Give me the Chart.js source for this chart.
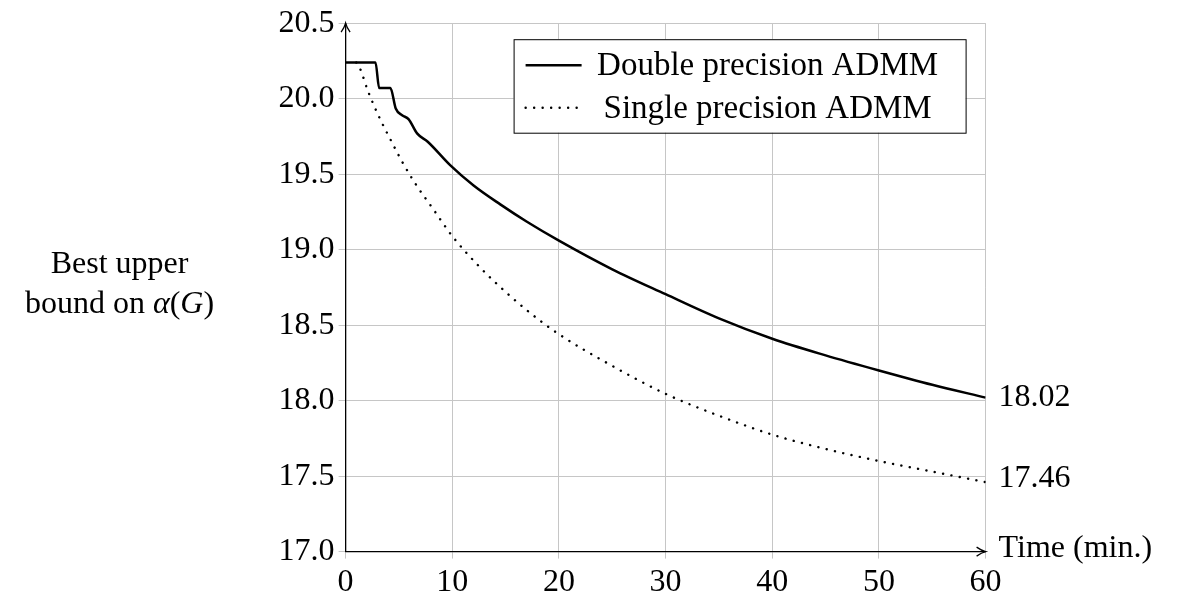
<!DOCTYPE html>
<html>
<head>
<meta charset="utf-8">
<script src="https://cdn.jsdelivr.net/npm/chart.js@4.4.1/dist/chart.umd.min.js"></script>
<style>
  html, body { margin: 0; padding: 0; background: #fff; }
  #wrap { width: 1179px; height: 599px; }
</style>
</head>
<body>
<div id="wrap"><canvas id="chart"></canvas></div>
<script>
// Values (time in minutes, bound value)
const doubleTime  = [0, 2.8, 3.15, 4.2, 4.7, 5.3, 5.9, 6.7, 7.7, 9.8, 12, 14.5, 17, 20, 25, 30, 35, 40, 45, 50, 55, 60];
const doubleValue = [20.24, 20.24, 20.07, 20.07, 19.935, 19.89, 19.865, 19.77, 19.715, 19.56, 19.425, 19.30, 19.185, 19.06, 18.87, 18.705, 18.545, 18.41, 18.30, 18.20, 18.105, 18.02];

const singleTime  = [1.0, 1.35, 2.1, 3.1, 4.2, 5.4, 6.7, 8.1, 10, 12.5, 15, 17.5, 20, 25, 30, 35, 40, 45, 50, 55, 60];
const singleValue = [20.24, 20.20, 20.05, 19.885, 19.73, 19.57, 19.42, 19.28, 19.09, 18.89, 18.72, 18.57, 18.44, 18.23, 18.045, 17.90, 17.775, 17.68, 17.60, 17.53, 17.46];

const seriesLabels = ['Double precision ADMM', 'Single precision ADMM'];
const xTicks = [0, 10, 20, 30, 40, 50, 60];
const yTicks = [17.0, 17.5, 18.0, 18.5, 19.0, 19.5, 20.0, 20.5];

const FONT = '"Liberation Serif", "Times New Roman", serif';
const FSIZE = 32;

const toPoints = (xs, ys) => xs.map((t, i) => ({ x: t, y: ys[i] }));

// axis arrows, end labels, y title and boxed legend
const decorations = {
    id: 'decorations',
    afterDraw(chart) {
        const { ctx, chartArea: a, scales: { y } } = chart;
        ctx.save();

        // arrow heads on the axes
        ctx.strokeStyle = '#000';
        ctx.lineWidth = 1.3;
        ctx.beginPath();
        ctx.moveTo(a.left - 4.5, a.top + 9);
        ctx.quadraticCurveTo(a.left - 1, a.top + 4, a.left, a.top);
        ctx.quadraticCurveTo(a.left + 1, a.top + 4, a.left + 4.5, a.top + 9);
        ctx.moveTo(a.right - 9, a.bottom - 4.5);
        ctx.quadraticCurveTo(a.right - 4, a.bottom - 1, a.right, a.bottom);
        ctx.quadraticCurveTo(a.right - 4, a.bottom + 1, a.right - 9, a.bottom + 4.5);
        ctx.stroke();

        ctx.fillStyle = '#000';
        ctx.font = `${FSIZE}px ${FONT}`;
        ctx.textAlign = 'left';
        ctx.textBaseline = 'middle';

        // final values next to the right border
        const lastD = doubleValue[doubleValue.length - 1];
        const lastS = singleValue[singleValue.length - 1];
        ctx.fillText(lastD.toFixed(2), a.right + 13, y.getPixelForValue(lastD));
        ctx.fillText(lastS.toFixed(2), a.right + 13, y.getPixelForValue(lastS) - 4);
        ctx.fillText('Time (min.)', a.right + 13, a.bottom - 3);

        // y title, two centred lines with math italic pieces
        const cx = 119.5;
        ctx.textAlign = 'center';
        ctx.textBaseline = 'alphabetic';
        ctx.fillText('Best upper', cx, 273);
        const parts = [['bound on ', false], ['α', true], ['(', false], ['G', true], [')', false]];
        const fontOf = it => (it ? 'italic ' : '') + `${FSIZE}px ${FONT}`;
        let total = 0;
        parts.forEach(([s, it]) => { ctx.font = fontOf(it); total += ctx.measureText(s).width; });
        let px = cx - total / 2;
        ctx.textAlign = 'left';
        parts.forEach(([s, it]) => {
            ctx.font = fontOf(it);
            ctx.fillText(s, px, 313);
            px += ctx.measureText(s).width;
        });

        // legend box
        const bx = a.right - 472, by = a.top + 16, bw = 452, bh = 93.5;
        ctx.fillStyle = '#fff';
        ctx.fillRect(bx, by, bw, bh);
        ctx.strokeStyle = '#000';
        ctx.lineWidth = 1;
        ctx.strokeRect(bx + 0.5, by + 0.5, bw, bh);
        ctx.font = `${FSIZE + 1}px ${FONT}`;
        ctx.textAlign = 'center';
        ctx.textBaseline = 'alphabetic';
        chart.data.datasets.forEach((ds, i) => {
            const rowY = by + 26 + i * 42.5;
            ctx.save();
            ctx.strokeStyle = ds.borderColor;
            ctx.lineWidth = ds.borderWidth;
            ctx.lineCap = ds.borderCapStyle || 'butt';
            ctx.setLineDash(ds.borderDash || []);
            ctx.beginPath();
            ctx.moveTo(bx + 12, rowY);
            ctx.lineTo(bx + 68, rowY);
            ctx.stroke();
            ctx.restore();
            ctx.fillStyle = '#000';
            ctx.fillText(ds.label, bx + 254, rowY + 10);
        });

        ctx.restore();
    }
};

new Chart(document.getElementById('chart'), {
    type: 'line',
    data: {
        datasets: [
            {
                label: seriesLabels[0],
                data: toPoints(doubleTime, doubleValue),
                borderColor: '#000',
                borderWidth: 2.5,
                pointRadius: 0,
                cubicInterpolationMode: 'monotone',
                fill: false
            },
            {
                label: seriesLabels[1],
                data: toPoints(singleTime, singleValue),
                borderColor: '#000',
                borderWidth: 2.4,
                borderDash: [0.1, 8.4],
                borderCapStyle: 'round',
                pointRadius: 0,
                cubicInterpolationMode: 'monotone',
                fill: false
            }
        ]
    },
    options: {
        responsive: true,
        maintainAspectRatio: false,
        animation: false,
        layout: { padding: { left: 0, right: 193.4, top: 19, bottom: 0 } },
        plugins: { legend: { display: false }, tooltip: { enabled: false } },
        scales: {
            x: {
                type: 'linear',
                min: xTicks[0],
                max: xTicks[xTicks.length - 1],
                afterBuildTicks: s => { s.ticks = xTicks.map(v => ({ value: v })); },
                afterFit: s => { s.height = 47.4; },
                grid: { color: '#c6c6c6', lineWidth: 1, tickLength: 7 },
                border: { color: '#000', width: 1.3 },
                ticks: { color: '#000', padding: 5, font: { family: FONT, size: FSIZE } }
            },
            y: {
                type: 'linear',
                min: yTicks[0],
                max: yTicks[yTicks.length - 1],
                afterBuildTicks: s => { s.ticks = yTicks.map(v => ({ value: v })); },
                afterFit: s => { s.width = 345.6; },
                grid: { color: '#c6c6c6', lineWidth: 1, tickLength: 7 },
                border: { color: '#000', width: 1.3 },
                ticks: {
                    color: '#000',
                    padding: 4,
                    font: { family: FONT, size: FSIZE },
                    callback: v => Number(v).toFixed(1)
                }
            }
        }
    },
    plugins: [decorations]
});
</script>
</body>
</html>
